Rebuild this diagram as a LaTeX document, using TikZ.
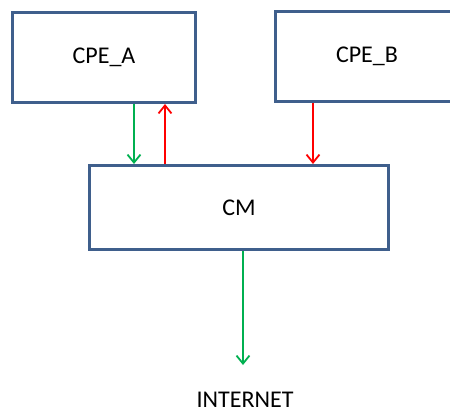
\documentclass[tikz,border=0pt]{standalone}
\usepackage{fontspec}
\setmainfont{Carlito}
\usetikzlibrary{arrows.meta}

\begin{document}
\begin{tikzpicture}[x=1pt, y=-1pt,
  box/.style={draw=boxblue, line width=3pt, minimum width=183pt, inner sep=0pt},
  flow/.style={line width=1.8pt, -{Straight Barb[length=8pt,width=13pt,line width=1.8pt]}},
  font=\fontsize{24}{29}\selectfont]
\definecolor{boxblue}{HTML}{3F5F8C}
\definecolor{okgreen}{HTML}{00B050}
\definecolor{badred}{HTML}{FF0000}
\path[use as bounding box, clip] (0,0) rectangle (450,410);

\node[box, minimum height=90pt] (cpeA) at (104,57.5) {CPE\_A};
\node[box, minimum height=90pt] (cpeB) at (367,56.5) {CPE\_B};
\node[box, minimum width=299pt, minimum height=84pt] (cm) at (239,207.5) {CM};
\node[inner sep=0pt] (inet) at (245,399.5) {INTERNET};
\coordinate (inetin) at (243,365);

\draw[flow, okgreen] ([xshift=30pt]cpeA.south) -- ([xshift=30pt]cpeA.south |- cm.north);
\draw[flow, badred] ([xshift=61pt]cpeA.south |- cm.north) -- ([xshift=61pt]cpeA.south);
\draw[flow, badred] ([xshift=-54pt]cpeB.south) -- ([xshift=-54pt]cpeB.south |- cm.north);
\draw[flow, okgreen] ([xshift=4pt]cm.south) -- (inetin);
\end{tikzpicture}
\end{document}
